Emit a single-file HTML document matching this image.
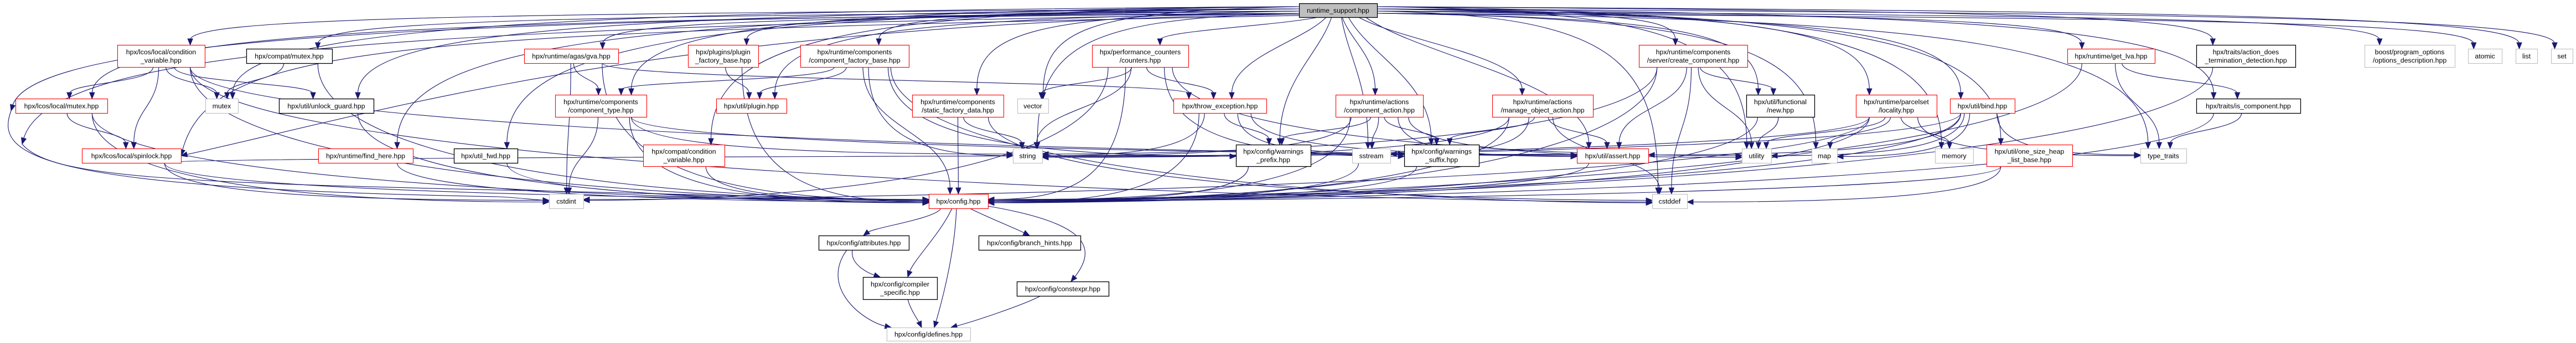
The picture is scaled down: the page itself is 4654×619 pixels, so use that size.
<!DOCTYPE html>
<html><head><meta charset="utf-8">
<style>
html,body{margin:0;padding:0;background:#fff;}
body{width:4654px;height:619px;overflow:hidden;}
svg{display:block;}
text{font-family:"Liberation Sans",Arial,sans-serif;font-size:12.3px;fill:#000;}
</style></head>
<body>
<svg id="g" xmlns="http://www.w3.org/2000/svg" width="4654" height="619" viewBox="0 0 4654 619">
<g id="edges" fill="none" stroke="#191970" stroke-width="1.1"></g>
<g id="arrows" fill="#191970" stroke="#191970" stroke-width="1"></g>
<g id="nodes"></g>
</svg>
<script>
var N={
top:[2347,2488,6,31,'t',['runtime_support.hpp']],
cv:[212,370,81,121,'r',['hpx/lcos/local/condition','_variable.hpp']],
cmutex:[445,600,88,114,'b',['hpx/compat/mutex.hpp']],
lmutex:[28,194,178,204,'r',['hpx/lcos/local/mutex.hpp']],
mutex:[371,430,178,204,'g',['mutex']],
unlock:[504,675,178,204,'b',['hpx/util/unlock_guard.hpp']],
spin:[148,327,268,294,'r',['hpx/lcos/local/spinlock.hpp']],
findhere:[575,746,268,294,'r',['hpx/runtime/find_here.hpp']],
gva:[947,1117,88,114,'r',['hpx/runtime/agas/gva.hpp']],
pfb:[1243,1370,81,121,'r',['hpx/plugins/plugin','_factory_base.hpp']],
cfb:[1446,1642,81,121,'r',['hpx/runtime/components','/component_factory_base.hpp']],
ctype:[1003,1168,171,211,'r',['hpx/runtime/components','/component_type.hpp']],
plugin:[1294,1421,178,204,'r',['hpx/util/plugin.hpp']],
utilfwd:[820,935,268,294,'b',['hpx/util_fwd.hpp']],
ccv:[1162,1309,261,300,'r',['hpx/compat/condition','_variable.hpp']],
cstdint:[992,1054,350,376,'g',['cstdint']],
attr:[1479,1642,425,451,'b',['hpx/config/attributes.hpp']],
compspec:[1559,1693,500,540,'b',['hpx/config/compiler','_specific.hpp']],
counters:[1973,2147,81,121,'r',['hpx/performance_counters','/counters.hpp']],
sfd:[1648,1813,171,211,'r',['hpx/runtime/components','/static_factory_data.hpp']],
vector:[1838,1894,178,204,'g',['vector']],
thr:[2120,2288,178,204,'r',['hpx/throw_exception.hpp']],
string:[1830,1883,268,294,'g',['string']],
wpre:[2233,2368,261,300,'b',['hpx/config/warnings','_prefix.hpp']],
config:[1678,1785,350,376,'r',['hpx/config.hpp']],
branch:[1768,1952,425,451,'b',['hpx/config/branch_hints.hpp']],
constexpr:[1837,2003,508,534,'b',['hpx/config/constexpr.hpp']],
defines:[1602,1753,591,615,'g',['hpx/config/defines.hpp']],
create:[2961,3157,81,121,'r',['hpx/runtime/components','/server/create_component.hpp']],
caction:[2413,2571,171,211,'r',['hpx/runtime/actions','/component_action.hpp']],
maction:[2696,2878,171,211,'r',['hpx/runtime/actions','/manage_object_action.hpp']],
fnew:[3155,3278,171,211,'b',['hpx/util/functional','/new.hpp']],
sstream:[2443,2512,268,294,'g',['sstream']],
wsuf:[2537,2672,261,300,'b',['hpx/config/warnings','_suffix.hpp']],
assert:[2849,2978,268,294,'r',['hpx/util/assert.hpp']],
utility:[3147,3200,268,294,'g',['utility']],
cstddef:[2985,3048,350,376,'g',['cstddef']],
locality:[3353,3499,171,211,'r',['hpx/runtime/parcelset','/locality.hpp']],
bind:[3523,3640,178,204,'r',['hpx/util/bind.hpp']],
getlva:[3735,3893,88,114,'r',['hpx/runtime/get_lva.hpp']],
action_does:[3968,4147,81,121,'b',['hpx/traits/action_does','_termination_detection.hpp']],
iscomp:[3968,4156,178,204,'b',['hpx/traits/is_component.hpp']],
map:[3273,3319,268,294,'g',['map']],
memory:[3496,3565,268,294,'g',['memory']],
oshl:[3589,3744,261,300,'r',['hpx/util/one_size_heap','_list_base.hpp']],
typetraits:[3867,3950,268,294,'g',['type_traits']],
boost:[4272,4435,81,121,'g',['boost/program_options','/options_description.hpp']],
atomic:[4459,4520,88,114,'g',['atomic']],
list:[4545,4584,88,114,'g',['list']],
set:[4609,4648,88,114,'g',['set']]
};
var NS="http://www.w3.org/2000/svg";
var E=document.getElementById('edges'),A=document.getElementById('arrows'),ND=document.getElementById('nodes');
function el(p,tag,at){var e=document.createElementNS(NS,tag);for(var k in at)e.setAttribute(k,at[k]);p.appendChild(e);return e;}
function cl(v,a,b){return Math.max(a,Math.min(b,v));}
function arrow(cx,cy,ex,ey){var dx=ex-cx,dy=ey-cy,l=Math.sqrt(dx*dx+dy*dy)||1;var ux=dx/l,uy=dy/l;
 var bx=ex-ux*11,by=ey-uy*11;el(A,'polygon',{points:ex+','+ey+' '+(bx-uy*4.5)+','+(by+ux*4.5)+' '+(bx+uy*4.5)+','+(by-ux*4.5)});
 return [bx+ux*2,by+uy*2];}
function path(sx,sy,c1x,c1y,c2x,c2y,ex,ey){var b=arrow(c2x,c2y,ex,ey);
 el(E,'path',{d:'M'+sx+' '+sy+' C'+c1x+' '+c1y+' '+c2x+' '+c2y+' '+b[0]+' '+b[1]});}
var k=0;
function edge(s,t){var S=N[s],T=N[t];var scx=(S[0]+S[1])/2,tcx=(T[0]+T[1])/2,tcy=(T[2]+T[3])/2;
 var dx=tcx-scx;k++;
 if(s==='top'){
  var sy=S[3],sx;
  if(Math.abs(dx)>500){sx=dx<0?S[0]:S[1];sy=12+(k%4)*4;
   var ex=tcx+cl(-dx*0.05,-(T[1]-T[0])/3,(T[1]-T[0])/3),ey=T[2];
   path(sx,sy,sx+dx*0.7,sy+8,ex,ey-(ey-sy)*0.75,ex,ey);}
  else{sx=scx+cl(dx*0.1,-60,60);var ex=tcx+cl(-dx*0.1,-(T[1]-T[0])/3,(T[1]-T[0])/3),ey=T[2];
   path(sx,sy,sx+dx*0.2,sy+(ey-sy)*0.3,ex,ey-(ey-sy)*0.5,ex,ey);}
  return;}
 var sx=scx+cl(dx*0.08,-(S[1]-S[0])/3,(S[1]-S[0])/3),sy=S[3];
 if(T[2]>=260&&Math.abs(dx)>260&&T[2]-sy>20){
  var ex=dx>0?T[0]:T[1],ey=tcy+((k%5)-2)*1.5,sg=dx>0?1:-1;
  path(sx,sy,sx,sy+(ey-sy)*0.8,ex-sg*Math.min(Math.abs(dx)*0.5,400),ey,ex,ey);}
 else{var ex=tcx+cl(-dx*0.08,-(T[1]-T[0])/3,(T[1]-T[0])/3),ey=T[2];
  path(sx,sy,sx,sy+(ey-sy)*0.5,ex,ey-(ey-sy)*0.5,ex,ey);}
}
['cv','cmutex','lmutex','mutex','unlock','findhere','gva','ctype','utilfwd','pfb','plugin','ccv','cfb','sfd','string','vector','counters','thr','wpre','caction','sstream','wsuf','maction','assert','create','cstddef','fnew','utility','locality','bind','map','memory','oshl','getlva','typetraits','action_does','iscomp','boost','atomic','list','set'].forEach(function(t){edge('top',t);});
var L=[['cv','lmutex'],['cv','spin'],['cv','mutex'],['cv','unlock'],['cv','config'],['cv','assert'],['cv','cstddef'],
['cmutex','mutex'],['cmutex','config'],['lmutex','spin'],['lmutex','config'],['lmutex','cstdint'],['unlock','config'],
['spin','config'],['spin','cstdint'],['spin','assert'],['findhere','config'],
['gva','ctype'],['gva','cstdint'],['gva','config'],['gva','thr'],['ctype','cstdint'],['ctype','config'],['ctype','string'],['ctype','assert'],
['pfb','plugin'],['pfb','config'],['cfb','ctype'],['cfb','plugin'],['cfb','config'],['cfb','string'],['cfb','wpre'],['cfb','cstddef'],
['utilfwd','config'],['ccv','config'],
['counters','vector'],['counters','string'],['counters','thr'],['counters','config'],['counters','cstdint'],['counters','utility'],['counters','wsuf'],
['sfd','string'],['sfd','config'],['sfd','cstddef'],
['thr','string'],['thr','wpre'],['thr','config'],['thr','wsuf'],['thr','assert'],['wpre','config'],
['caction','sstream'],['caction','wsuf'],['caction','wpre'],['caction','config'],['caction','string'],['caction','assert'],['caction','utility'],
['maction','wsuf'],['maction','assert'],['maction','config'],['maction','cstddef'],['maction','string'],['maction','sstream'],
['create','utility'],['create','cstddef'],['create','fnew'],['create','config'],['create','string'],['create','assert'],
['fnew','utility'],['fnew','config'],
['locality','map'],['locality','memory'],['locality','utility'],['locality','typetraits'],['locality','string'],['locality','config'],['locality','cstdint'],
['bind','typetraits'],['bind','utility'],['bind','map'],['bind','string'],['bind','config'],['bind','assert'],
['oshl','config'],['oshl','cstddef'],['getlva','typetraits'],['getlva','iscomp'],['getlva','config'],
['iscomp','typetraits'],['iscomp','config'],['action_does','config'],['assert','config'],['wsuf','config'],['sstream','config']];
L.forEach(function(p){edge(p[0],p[1]);});
// explicit loops from top node around left side
path(2347,20,900,35,60,60,20,200);el(E,'path',{d:'M20 200 C-10 280 60 340 900 355'});path(900,355,940,357,960,360,992,362);
path(2347,24,800,50,90,80,40,260);el(E,'path',{d:'M40 260 C90 320 300 330 1000 345'});path(1000,345,1400,355,1600,360,1678,362);
path(2347,28,700,60,380,80,327,281);
path(2347,26,1200,40,700,200,327,281);
// config children
var C=N.config;
path(1700,376,1690,395,1580,410,1560,425);
path(1720,376,1700,420,1650,470,1640,500);
path(1728,376,1725,460,1700,550,1688,591);
path(1752,376,1790,395,1830,410,1860,425);
path(1785,372,1950,400,1990,440,1935,508);
path(1540,451,1535,480,1575,495,1590,500);
path(1530,451,1480,520,1560,580,1610,591);
path(1640,540,1645,560,1660,580,1665,591);
path(1880,534,1850,550,1760,580,1718,591);
for(var id in N){var n=N[id],x=n[0],y=n[2],w=n[1]-n[0],h=n[3]-n[2],st=n[4];
 var stroke=st==='r'?'#ff0000':st==='b'?'#000000':st==='t'?'#000000':'#bfbfbf';
 el(ND,'rect',{x:x+0.5,y:y+0.5,width:w,height:h,fill:st==='t'?'#bfbfbf':'#ffffff',stroke:stroke,'stroke-width':st==='b'||st==='t'?1.3:1.1});
 var ls=n[5];
 if(ls.length===1){var t=el(ND,'text',{x:x+w/2,y:y+h/2+4.5,'text-anchor':'middle'});t.textContent=ls[0];}
 else{for(var i=0;i<2;i++){var t=el(ND,'text',{x:x+w/2,y:y+h/2-3+i*15,'text-anchor':'middle'});t.textContent=ls[i];}}
}
</script>
</body></html>
